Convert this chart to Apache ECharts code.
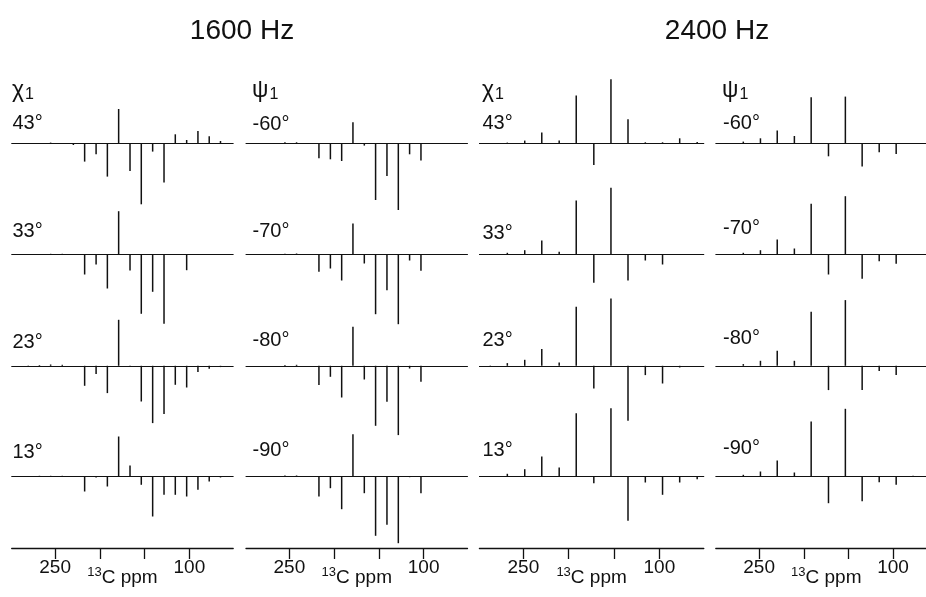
<!DOCTYPE html>
<html><head><meta charset="utf-8">
<script src="https://cdn.jsdelivr.net/npm/echarts@6.0.0/dist/echarts.min.js"></script>
<style>html,body{margin:0;padding:0;background:#fff}#c{width:926px;height:597px}</style>
</head><body><div id="c"></div>
<script>
// ---------------- DATA ----------------
const titles = ['1600 Hz', '2400 Hz'];
const panelSymbols = ['χ', 'ψ', 'χ', 'ψ'];
const chiAngles = ['43°', '33°', '23°', '13°'];
const psiAngles = ['-60°', '-70°', '-80°', '-90°'];
const tickValues = [100, 150, 200, 250];
const labelValues = [100, 250];

// stick positions (ppm)
const ppm1600 = [280, 267.5, 255, 242, 229.6, 217, 204.2, 191.6, 179, 166.3, 153.7, 141, 128.3, 115.7, 103, 90.4, 77.8, 65.2];
const ppm2400 = [286.5, 267.7, 248.5, 229.7, 210.5, 191.7, 172.3, 153.4, 134.6, 115.5, 96.5, 77.6, 58.3];

// intensities (arbitrary units)
const chi1600_43 = [0, 0, 0.7, 0, -1.7, -18.3, -11, -33.3, 34.3, -27.7, -61, -8.3, -39.3, 9, 3.3, 12.3, 7, 2.3];
const chi1600_33 = [0, 0, 0.7, 0.7, 0, -20, -10, -34, 43.3, -16, -59.3, -37.3, -69.3, 0, -15.7, 0.3, 0, 0];
const chi1600_23 = [0.3, 0.7, 1.3, 1, 0, -20, -8.3, -27.3, 46, -1, -35.7, -57.3, -48.3, -19, -21.7, -6.3, -3, -1.3];
const chi1600_13 = [0.3, 0.7, 0.7, 0.7, 0, -15, -1, -10, 40, 11, -8.3, -40, -18.3, -18.3, -20, -13.3, -5, -1];

const psi1600_60 = [0, 0.3, 1, 1, -0.7, -15, -16, -17.7, 21, -2.3, -56.7, -32.7, -66.7, -11, -17.3, 0.3, 0.3, 0.3];
const psi1600_70 = [0, 0, 0.7, 1, 0, -17.3, -14, -26, 31, -9, -59.7, -35.7, -69.7, -6, -16.3, 0, 0, 0];
const psi1600_80 = [0, 0, 0.7, 1, 0, -19.3, -11, -31.7, 39, -13.7, -60, -36, -69.3, -2.7, -16, 0, 0, 0];
const psi1600_90 = [0, 0.3, 1, 1, 0, -20, -11.7, -32.7, 42.3, -16.7, -59.3, -48.3, -66.7, -0.7, -16.7, 0.3, 0.3, 0];

const chi2400_43 = [0, 0.7, 2.7, 10.7, 2.7, 47.7, -21.7, 64, 24, 1, 1, 5, 1.3];
const chi2400_33 = [0.3, 1.7, 4.3, 14, 2.7, 54, -28.3, 66.7, -26, -6, -10, 0.3, 0];
const chi2400_23 = [0.3, 2.7, 6, 16.7, 3.3, 59, -22.7, 67.3, -55, -9.3, -17.7, -1.7, 0];
const chi2400_13 = [0.3, 2.7, 7.3, 20, 9, 63.3, -6.7, 68.3, -44.3, -6, -18.3, -6, -2.7];

const psi2400_60 = [0.3, 1.7, 5, 12.7, 7.3, 46, -13, 46.7, -23.3, -9, -10.7, 0, 0];
const psi2400_70 = [0, 1.7, 4.3, 15, 6, 50.7, -20, 58.3, -24.3, -6.7, -9.3, 0, 0];
const psi2400_80 = [0, 1.7, 5, 15, 5, 54, -24.3, 65.7, -24.3, -5.3, -9.3, 0, 0];
const psi2400_90 = [0, 1.7, 5, 16, 4, 55, -26.7, 67.7, -24.7, -5.7, -8.3, 0.7, 0];

// ---------------- LAYOUT ----------------
const FONT = '"Liberation Sans", Arial, Helvetica, sans-serif';
const INK = '#111';
const X_MIN = 51, X_MAX = 298.5;
const HALF = 75;
const AXIS_Y = 548;
const rowBase = [143.3, 254.5, 365.8, 476.5];

const panels = [
  { left: 11.7, width: 221.5, pos: ppm1600, rows: [chi1600_43, chi1600_33, chi1600_23, chi1600_13], labels: chiAngles, labX: 12.5, labY: [123, 231, 342, 452], symX: 12 },
  { left: 246.0, width: 221.5, pos: ppm1600, rows: [psi1600_60, psi1600_70, psi1600_80, psi1600_90], labels: psiAngles, labX: 252.5, labY: [124, 231, 340.5, 450.5], symX: 252 },
  { left: 479.4, width: 224.4, pos: ppm2400, rows: [chi2400_43, chi2400_33, chi2400_23, chi2400_13], labels: chiAngles, labX: 482.5, labY: [123, 233, 340, 450.5], symX: 482 },
  { left: 715.8, width: 221.0, pos: ppm2400, rows: [psi2400_60, psi2400_70, psi2400_80, psi2400_90], labels: psiAngles, labX: 723, labY: [123, 228, 338, 448], symX: 722 }
];

const grid = [], xAxis = [], yAxis = [], series = [], graphic = [];

panels.forEach((p, pi) => {
  p.rows.forEach((vals, ri) => {
    const gi = grid.length;
    grid.push({ left: p.left, width: p.width, top: rowBase[ri] - HALF, height: 2 * HALF, outerBoundsMode: 'none' });
    xAxis.push({
      gridIndex: gi, type: 'value', min: X_MIN, max: X_MAX, inverse: true,
      axisLine: { show: true, onZero: true, lineStyle: { color: INK, width: 1 } },
      axisTick: { show: false }, axisLabel: { show: false }, splitLine: { show: false }
    });
    yAxis.push({ gridIndex: gi, type: 'value', min: -HALF, max: HALF, show: false, splitLine: { show: false } });
    series.push({
      type: 'bar', xAxisIndex: gi, yAxisIndex: gi, silent: true,
      data: p.pos.map((x, i) => [x, vals[i]]),
      barWidth: 1.5, itemStyle: { color: INK }
    });
    graphic.push({
      type: 'text', x: p.labX, y: p.labY[ri], silent: true,
      style: { text: p.labels[ri], fontSize: 20, fontFamily: FONT, fill: INK, align: 'left', verticalAlign: 'middle', textAlign: 'left', textVerticalAlign: 'middle' }
    });
  });
  // bottom ppm axis
  const gi = grid.length;
  grid.push({ left: p.left, width: p.width, top: AXIS_Y - 40, height: 40, outerBoundsMode: 'none' });
  xAxis.push({
    gridIndex: gi, type: 'value', min: X_MIN, max: X_MAX, inverse: true, position: 'bottom',
    axisLine: { show: true, onZero: false, lineStyle: { color: INK, width: 1.3 } },
    axisTick: { show: true, customValues: tickValues, length: 11, inside: false, lineStyle: { color: INK, width: 1.3 } },
    axisLabel: { show: true, customValues: labelValues, fontSize: 19, fontFamily: FONT, color: INK, margin: 10 },
    splitLine: { show: false },
    name: '{s|13}{m|C ppm}', nameLocation: 'middle', nameGap: 18, nameMoveOverlap: false,
    nameTextStyle: {
      rich: {
        s: { fontSize: 13, fontFamily: FONT, color: INK, verticalAlign: 'top', lineHeight: 13 },
        m: { fontSize: 19, fontFamily: FONT, color: INK, lineHeight: 24 }
      }
    }
  });
  yAxis.push({ gridIndex: gi, type: 'value', min: 0, max: 1, show: false, splitLine: { show: false } });

  graphic.push({
    type: 'text', x: p.symX, y: 91, silent: true,
    style: {
      text: '{g|' + panelSymbols[pi] + '}{s|1}', fill: INK, align: 'left', verticalAlign: 'middle',
      rich: {
        g: { fontSize: 23, fontFamily: FONT, fill: INK, color: INK },
        s: { fontSize: 16, fontFamily: FONT, fill: INK, color: INK, verticalAlign: 'bottom', padding: [6, 0, 0, 1] }
      }
    }
  });
});

graphic.push({ type: 'text', x: 242, y: 31, silent: true, style: { text: titles[0], fontSize: 28, fontFamily: FONT, fill: INK, align: 'center', verticalAlign: 'middle' } });
graphic.push({ type: 'text', x: 717, y: 31, silent: true, style: { text: titles[1], fontSize: 28, fontFamily: FONT, fill: INK, align: 'center', verticalAlign: 'middle' } });

const chart = echarts.init(document.getElementById('c'), null, { renderer: 'canvas' });
chart.setOption({
  backgroundColor: '#fff',
  animation: false,
  grid, xAxis, yAxis, series, graphic
});
</script>
</body></html>
